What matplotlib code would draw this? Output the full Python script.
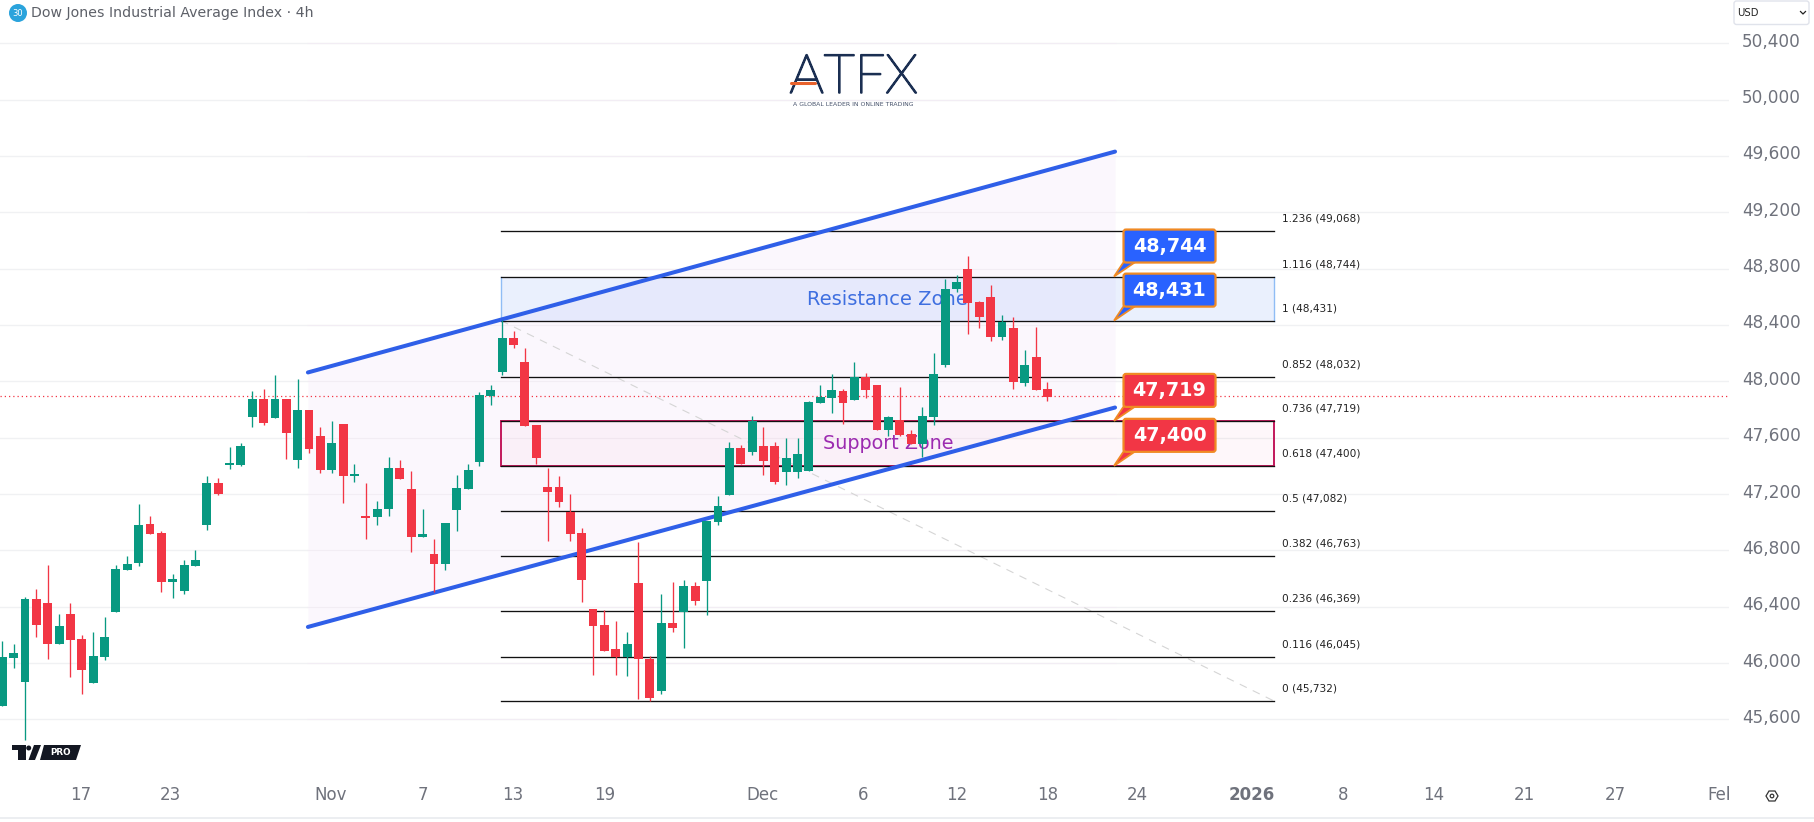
import matplotlib
matplotlib.use("Agg")
import matplotlib.pyplot as plt
import matplotlib.patheffects as pe
from matplotlib.patches import Polygon, FancyBboxPatch, Rectangle, Circle

# ---------- data ----------
opens = [45695,46035,45865,46454,46426,46134,46347,46170,45858,46042,46362,46660,46710,46987,46923,46575,46511,46688,46980,47278,
         47405,47405,47746,47874,47739,47874,47441,47796,47611,47370,47696,47327,47043,47036,47093,47384,47235,46894,46773,46702,
         47086,47235,47427,47895,48066,48307,48137,47689,47249,47249,47072,46923,46383,46269,46099,46042,46567,46028,45801,46283,
         46362,46546,46582,47001,47192,47526,47498,47540,47540,47356,47356,47363,47846,47881,47931,47867,48030,47973,47654,47725,
         47625,47554,47746,48115,48655,48797,48563,48598,48314,48378,47988,48172,47945]
closes = [46042,46071,46454,46269,46134,46262,46163,45950,46049,46184,46667,46703,46979,46916,46575,46596,46695,46731,47278,47200,
          47412,47540,47874,47703,47874,47632,47796,47519,47370,47561,47327,47334,47029,47093,47384,47306,46894,46915,46702,46993,
          47242,47370,47902,47938,48307,48258,47682,47455,47214,47143,46915,46589,46262,46085,46042,46134,46028,45751,46283,46248,
          46546,46440,47008,47114,47526,47412,47718,47434,47285,47455,47483,47853,47888,47938,47846,48030,47938,47654,47746,47618,
          47554,47753,48052,48655,48705,48556,48456,48314,48421,47995,48115,47938,47888]
highs = [46156,46134,46468,46525,46695,46347,46426,46198,46220,46326,46695,46759,47129,47043,46937,46632,46731,46802,47327,47313,
         47533,47561,47931,47945,48044,47874,48016,47796,47675,47718,47696,47412,47277,47150,47462,47441,47363,47093,46880,46993,
         47334,47412,47923,47973,48435,48357,48236,47689,47384,47327,47199,46958,46383,46376,46298,46219,46859,46049,46489,46575,
         46589,46575,47008,47185,47569,47547,47753,47675,47569,47597,47597,47860,47973,48052,47943,48137,48058,47973,47753,47959,
         47654,47817,48201,48726,48755,48889,48570,48683,48471,48456,48222,48385,47995]
lows = [45695,45964,45453,46184,46028,46134,45900,45779,45858,46021,46362,46660,46688,46916,46504,46461,46490,46688,46944,47192,
        47377,47398,47675,47689,47739,47448,47384,47490,47348,47348,47135,47285,46880,46979,47043,47306,46787,46894,46506,46660,
        46937,47235,47398,47831,48044,48236,47682,47412,46866,47107,46866,46433,45914,46085,45914,45907,45744,45730,45779,46220,
        46106,46411,46340,46979,47192,47412,47476,47334,47270,47263,47313,47363,47846,47775,47697,47867,47881,47654,47611,47611,
        47554,47462,47689,48101,48634,48336,48378,48286,48293,47945,47966,47938,47860]
last_price = 47893

fib_ratios = ["1.236","1.116","1","0.852","0.736","0.618","0.5","0.382","0.236","0.116","0"]
fib_prices = [49068,48744,48431,48032,47719,47400,47082,46763,46369,46045,45732]
price_ticks = [45600,46000,46400,46800,47200,47600,48000,48400,48800,49200,49600,50000,50400]
time_labels = ["17","23","Nov","7","13","19","Dec","6","12","18","24","2026","8","14","21","27","Feb"]
time_bars = [6.9,14.8,28.9,37,44.9,53,66.9,75.8,84,92,99.9,110,118,126,134,142,151.4]

channel_x = [26.9, 97.95]
channel_top = [48063, 49631]
channel_bot = [46256, 47814]
fib_x = [43.9, 111.9]
callout_bar = 97.86
callouts = [(48744,"48,744","#2962ff"),(48431,"48,431","#2962ff"),(47719,"47,719","#f23645"),(47400,"47,400","#f23645")]

# ---------- figure ----------
W, H = 1814, 822
PLOT_R = 1729
fig = plt.figure(figsize=(W/100, H/100), dpi=100, facecolor="white")
ax = fig.add_axes([0, 0, PLOT_R/W, 1])
ax.set_xlim((0-2.33)/11.36, (PLOT_R-2.33)/11.36)
ax.set_ylim(50707.4-7.1*H, 50707.4)
ax.axis("off")
ov = fig.add_axes([0, 0, 1, 1], zorder=5)
ov.set_xlim(0, W); ov.set_ylim(H, 0); ov.axis("off"); ov.patch.set_alpha(0)

GRAY = "#6f727c"
for p in price_ticks:
    ax.axhline(p, color="#f0f1f3", lw=1.0, zorder=1)

ax.fill_between(channel_x, channel_bot, channel_top, color="#fbf7fd", lw=0, zorder=1.5)
for p in price_ticks:
    ax.plot(channel_x, [p, p], color="#f2edf4", lw=0.8, zorder=1.6)

ax.axhline(last_price, color="#f23645", lw=0.9, ls=(0, (1, 2.4)), zorder=2)

# zones
ax.fill_between(fib_x, fib_prices[2], fib_prices[1], color="#2164f3", alpha=0.095, lw=0, zorder=2)
ax.fill_between(fib_x, fib_prices[5], fib_prices[4], color="#e91e63", alpha=0.03, lw=0, zorder=2)
ax.plot([fib_x[0]]*2, [fib_prices[2], fib_prices[1]], color="#90bdf5", lw=1, zorder=2.1)
ax.plot([fib_x[1]]*2, [fib_prices[2], fib_prices[1]], color="#90bdf5", lw=1, zorder=2.1)
ax.add_patch(Rectangle((fib_x[0], fib_prices[5]), fib_x[1]-fib_x[0], fib_prices[4]-fib_prices[5],
                       fill=False, ec="#c2185b", lw=1.4, zorder=2.1))

# dashed fib trend
ax.plot(fib_x, [fib_prices[2], fib_prices[-1]], color="#d5d5d5", lw=0.8, ls=(0, (7, 6)), zorder=2.2)
# fib levels
for r, p in zip(fib_ratios, fib_prices):
    ax.plot(fib_x, [p, p], color="#111111", lw=0.95, zorder=2.3)
    ax.annotate(f"{r} ({p:,})", xy=(fib_x[1], p), xytext=(8, 12.5), textcoords="offset pixels",
                fontsize=7.6, color="#222222", va="center", ha="left", annotation_clip=False, zorder=3)

# channel
ax.plot(channel_x, channel_top, color="#2f5fe8", lw=2.9, solid_capstyle="round", zorder=2.6)
ax.plot(channel_x, channel_bot, color="#2f5fe8", lw=2.9, solid_capstyle="round", zorder=2.6)

# zone texts
ax.text(77.9, 48580, "Resistance Zone", color="#3f6fe0", fontsize=14, ha="center", va="center", zorder=2.8)
ax.text(78.0, 47560, "Support Zone", color="#9c2bb0", fontsize=13.8, ha="center", va="center", zorder=2.8)

# candles
for i, (o, h, l, c) in enumerate(zip(opens, highs, lows, closes)):
    col = "#089981" if c >= o else "#f23645"
    ax.vlines(i, l, h, color=col, lw=0.95, zorder=4)
    ax.bar(i, max(abs(c-o), 14), bottom=min(o, c), width=0.78, color=col, lw=0, zorder=4.1)

# time labels
for lab, b in zip(time_labels, time_bars):
    t = ax.text(b, 50707.4-7.1*795, lab, fontsize=12, color=GRAY, ha="center", va="center", clip_on=True,
                fontweight="bold" if lab == "2026" else "normal", zorder=4)

# price labels
for p in price_ticks:
    yy = (50707.4-p)/7.1
    ov.text(1771.5, yy-1.5, f"{p:,}", fontsize=12.2, color=GRAY, ha="center", va="center")

# axis baseline
ov.plot([0, W], [818, 818], color="#e9ebef", lw=1.2)

# callouts
for p, lab, col in callouts:
    tx, ty = ax.transData.transform((callout_bar, p))
    ty = H - ty
    ov.add_patch(Polygon([(tx, ty), (tx+10, ty-15), (tx+22, ty-15)], closed=True, fc=col, ec="#f08a24", lw=1.3, zorder=3))
    ov.add_patch(FancyBboxPatch((tx+11, ty-45.5), 89, 30, boxstyle="round,pad=1.5,rounding_size=2.5",
                                fc=col, ec="#f08a24", lw=1.6, zorder=4))
    ov.text(tx+55.5, ty-30.5, lab, color="white", fontsize=13.8, fontweight="bold", ha="center", va="center", zorder=5)

# header
ov.add_patch(Circle((18, 13), 9, fc="#2aa3dc", ec="none"))
ov.text(18, 13.3, "30", color="white", fontsize=6, ha="center", va="center")
ov.text(31, 13, "Dow Jones Industrial Average Index · 4h", fontsize=10.2, color="#5d6068", ha="left", va="center")

# ATFX logo
ov.text(853.5, 78.3, "ATFX", family=["Lato", "Noto Sans"], fontweight="light", fontsize=39, color="#1b2f52",
        ha="center", va="center", path_effects=[pe.withStroke(linewidth=1.4, foreground="#1b2f52")])
ov.plot([791, 815], [83, 83], color="#e8622c", lw=2.2, solid_capstyle="round", zorder=4)
ov.text(853.5, 105, "A GLOBAL LEADER IN ONLINE TRADING", fontsize=4.4, color="#44506a", ha="center", va="center")

# USD box
ov.add_patch(FancyBboxPatch((1734, 1), 75, 23.5, boxstyle="round,pad=0,rounding_size=2.5", fc="white", ec="#e0e3eb", lw=1))
ov.text(1737, 12.8, "USD", fontsize=7.3, color="#222222", ha="left", va="center")
ov.plot([1800.5, 1803, 1805.5], [11.5, 14, 11.5], color="#222222", lw=0.9)

# TV logo
ov.add_patch(Polygon([(12, 745), (26, 745), (26, 760), (18, 760), (18, 750), (12, 750)], fc="#131722", ec="none"))
ov.add_patch(Circle((28.7, 748), 2.5, fc="#131722", ec="none"))
ov.add_patch(Polygon([(34, 745), (41, 745), (35, 760), (28.5, 760)], fc="#131722", ec="none"))
ov.add_patch(Polygon([(44, 745), (81, 745), (76, 760), (40, 760)], fc="#131722", ec="none"))
ov.text(60.5, 752.8, "PRO", color="white", fontsize=6.3, fontweight="bold", ha="center", va="center")

# gear icon
ov.add_patch(Polygon([(1766, 796), (1769, 791), (1775, 791), (1778, 796), (1775, 801), (1769, 801)], fc="none", ec="#333333", lw=0.9))
ov.add_patch(Circle((1772, 796), 1.8, fc="none", ec="#333333", lw=0.9))

fig.savefig("out.png", dpi=100, facecolor="white")
